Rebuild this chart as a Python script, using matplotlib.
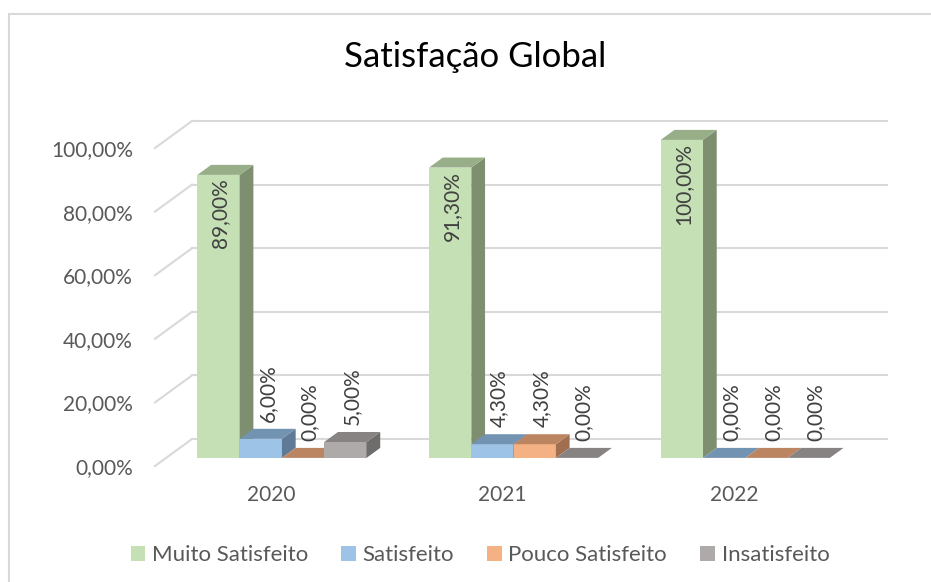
import matplotlib.pyplot as plt
from matplotlib.patches import Polygon, Rectangle, Patch

plt.rcParams['font.family'] = ['Lato', 'DejaVu Sans']

# data
anos = ["2020", "2021", "2022"]
series = ["Muito Satisfeito", "Satisfeito", "Pouco Satisfeito", "Insatisfeito"]
muito_satisfeito = [89.00, 91.30, 100.00]
satisfeito = [6.00, 4.30, 0.00]
pouco_satisfeito = [0.00, 4.30, 0.00]
insatisfeito = [5.00, 0.00, 0.00]
valores = [muito_satisfeito, satisfeito, pouco_satisfeito, insatisfeito]
yticks = [0, 20, 40, 60, 80, 100]

# front / top / side colours of each series
cores = [("#C5E0B4", "#97AE88", "#7E8F70"),
         ("#9DC3E6", "#7393B3", "#5F7A96"),
         ("#F4B183", "#BC8562", "#A16F4F"),
         ("#AEAAAA", "#878383", "#6F6C6C")]

# 3d look: shift of the back plane, in data units
DX = 0.16
DY = 8.5
Z0, Z1 = 0.30, 0.67
GROUP_W = 0.73
BAR_W = GROUP_W / len(series)


def proj(x, y, z):
    return (x + z * DX, y + z * DY)


fig = plt.figure(figsize=(9.31, 5.82), dpi=100)
fig.patches.append(Rectangle((9 / 931, -0.2), 2, 1 - 14 / 582 + 0.2,
                             transform=fig.transFigure, fill=False,
                             edgecolor="#D9D9D9", linewidth=1.5))

ax = fig.add_axes([155 / 931, (582 - 466) / 582, 695 / 931, 318 / 582])
ax.set_xlim(-0.5, len(anos) - 0.5)
ax.set_ylim(0, 100)
for s in ax.spines.values():
    s.set_visible(False)
ax.set_yticks(yticks)
ax.set_yticklabels([f"{t:.2f}%".replace(".", ",") for t in yticks])
ax.set_xticks(range(len(anos)))
ax.set_xticklabels(anos)
ax.tick_params(axis="y", length=0, pad=16, labelsize=15, labelcolor="#595959")
ax.tick_params(axis="x", length=0, pad=14, labelsize=15, labelcolor="#595959")

# grid: back wall and left wall
x_left = -0.5
x_right = len(anos) - 0.5
for t in yticks:
    ax.plot([proj(x_left, t, 0)[0], proj(x_left, t, 1)[0]],
            [proj(x_left, t, 0)[1], proj(x_left, t, 1)[1]],
            color="#D9D9D9", lw=1.5, clip_on=False, zorder=1)
    ax.plot([proj(x_left, t, 1)[0], proj(x_right, t, 1)[0]],
            [t + DY, t + DY], color="#D9D9D9", lw=1.5, clip_on=False, zorder=1)

# bars, left to right so right faces get covered properly
z = 2
for i in range(len(anos)):
    for j in range(len(series)):
        v = valores[j][i]
        x0 = i - GROUP_W / 2 + j * BAR_W
        x1 = x0 + BAR_W
        front, top, side = cores[j]
        if v > 0:
            ax.add_patch(Polygon([proj(x0, 0, Z0), proj(x1, 0, Z0),
                                  proj(x1, v, Z0), proj(x0, v, Z0)],
                                 closed=True, facecolor=front, edgecolor="none",
                                 clip_on=False, zorder=z))
            ax.add_patch(Polygon([proj(x1, 0, Z0), proj(x1, 0, Z1),
                                  proj(x1, v, Z1), proj(x1, v, Z0)],
                                 closed=True, facecolor=side, edgecolor="none",
                                 clip_on=False, zorder=z))
        ax.add_patch(Polygon([proj(x0, v, Z0), proj(x1, v, Z0),
                              proj(x1, v, Z1), proj(x0, v, Z1)],
                             closed=True, facecolor=top, edgecolor="none",
                             clip_on=False, zorder=z))
        z += 1

# data labels
for i in range(len(anos)):
    for j in range(len(series)):
        v = valores[j][i]
        x0 = i - GROUP_W / 2 + j * BAR_W
        txt = f"{v:.2f}%".replace(".", ",")
        if v > 50:
            xc, yt = proj(x0 + BAR_W / 2, v, Z0)
            ax.text(xc + 0.008, yt - 1.0, txt, rotation=90, ha="center", va="top",
                    fontsize=15, color="#404040", zorder=50, clip_on=False)
        else:
            xc, yt = proj(x0 + BAR_W / 2, v, (Z0 + Z1) / 2)
            yt = v + Z1 * DY + 2.2
            ax.text(xc, yt, txt, rotation=90, ha="center", va="bottom",
                    fontsize=15, color="#404040", zorder=50, clip_on=False)

fig.text(475 / 931, 1 - 57 / 582, "Satisfação Global", ha="center", va="center",
         fontsize=25, color="black")

handles = [Patch(facecolor=cores[j][0], edgecolor="none") for j in range(len(series))]
fig.legend(handles, series, loc="center", bbox_to_anchor=(480 / 931, 1 - 555 / 582),
           ncol=4, frameon=False, fontsize=16, labelcolor="#595959",
           handlelength=0.65, handleheight=0.65, handletextpad=0.3, columnspacing=1.5)

fig.savefig("out.png", dpi=100)
